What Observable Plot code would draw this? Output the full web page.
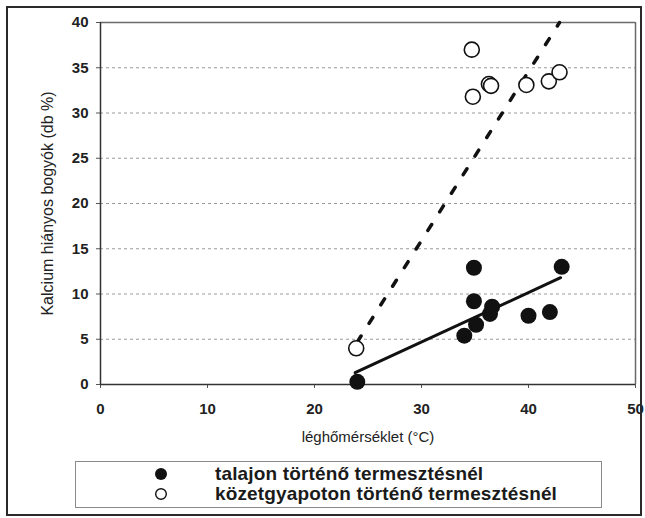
<!DOCTYPE html>
<html>
<head>
<meta charset="utf-8">
<script src="https://cdn.jsdelivr.net/npm/d3@7"></script>
<script src="https://cdn.jsdelivr.net/npm/@observablehq/plot@0.6"></script>
<style>
  html, body { margin: 0; padding: 0; background: #fff; }
  #wrap { position: relative; width: 645px; height: 518px; overflow: hidden; font-family: "Liberation Sans", Arial, sans-serif; }
  #border { position: absolute; left: 6px; top: 6px; width: 632px; height: 506px; border: 2px solid #2a2a2a; box-sizing: content-box; pointer-events: none; }
  #legend { position: absolute; left: 75px; top: 461px; width: 527px; height: 47px; border: 1px solid #8a8a8a; box-sizing: border-box; }
  .row { position: absolute; left: 0; height: 20px; }
  .row svg { position: absolute; left: 78px; top: 0; }
  .row span { position: absolute; left: 139px; top: 0; white-space: nowrap; font-weight: bold; font-size: 19px; letter-spacing: 0.15px; color: #1a1a1a; line-height: 20px; }
</style>
</head>
<body>
<div id="wrap">
  <div id="chart"></div>
  <div id="legend">
    <div class="row" style="top:2px"><svg width="14" height="20"><circle cx="7" cy="10" r="6" fill="#111"/></svg><span>talajon történő termesztésnél</span></div>
    <div class="row" style="top:22px"><svg width="14" height="20"><circle cx="7" cy="10" r="5.3" fill="none" stroke="#111" stroke-width="1.4"/></svg><span>közetgyapoton történő termesztésnél</span></div>
  </div>
  <div id="border"></div>
</div>
<script>
// Series: growing on soil (filled) and on rock wool (open)
const soilTemp = [24.0, 34.9, 34.9, 35.1, 34.0, 36.6, 36.4, 40.0, 42.0, 43.1];
const soilPct  = [0.3, 12.9, 9.2, 6.6, 5.4, 8.6, 7.8, 7.6, 8.0, 13.0];
const woolTemp = [23.9, 34.7, 34.8, 36.3, 36.5, 39.8, 41.9, 42.9];
const woolPct  = [4.0, 37.0, 31.8, 33.2, 33.0, 33.1, 33.5, 34.5];
// Trend line end points
const soilTrendTemp = [23.8, 43.0];
const soilTrendPct  = [1.3, 11.8];
const woolTrendTemp = [24.0, 42.9];
const woolTrendPct  = [4.7, 40.0];
// Ticks and labels
const xTicks = [0, 10, 20, 30, 40, 50];
const yTicks = [0, 5, 10, 15, 20, 25, 30, 35, 40];
const xLabel = "léghőmérséklet (°C)";
const yLabel = "Kalcium hiányos bogyók (db %)";

const soil = soilTemp.map((t, i) => ({t, p: soilPct[i]}));
const wool = woolTemp.map((t, i) => ({t, p: woolPct[i]}));
const soilTrend = soilTrendTemp.map((t, i) => ({t, p: soilTrendPct[i]}));
const woolTrend = woolTrendTemp.map((t, i) => ({t, p: woolTrendPct[i]}));

const chart = Plot.plot({
  width: 645,
  height: 518,
  marginLeft: 100,
  marginRight: 10,
  marginTop: 22,
  marginBottom: 134,
  style: { fontFamily: "Liberation Sans, Arial, sans-serif", background: "transparent", overflow: "visible" },
  x: { domain: [0, 50] },
  y: { domain: [0, 40] },
  marks: [
    Plot.gridY(yTicks.filter(d => d > 0 && d < 40), { stroke: "#9a9a9a", strokeOpacity: 1, strokeDasharray: "3,3", strokeWidth: 1 }),
    Plot.ruleY([40], { stroke: "#6a6a6a", strokeWidth: 1.5 }),
    Plot.ruleX([50], { stroke: "#6a6a6a", strokeWidth: 1.5 }),
    Plot.axisX(xTicks, { tickSize: 4, tickPadding: 15, fontSize: 15, fontWeight: "bold", fill: "#222", stroke: "#555", label: null }),
    Plot.axisY(yTicks, { tickSize: 4, tickPadding: 8, fontSize: 15, fontWeight: "bold", fill: "#222", stroke: "#555", label: null }),
    Plot.ruleX([0], { stroke: "#333", strokeWidth: 1.5 }),
    Plot.ruleY([0], { stroke: "#333", strokeWidth: 1.5 }),
    Plot.line(woolTrend, { x: "t", y: "p", stroke: "#111", strokeWidth: 3.5, strokeDasharray: "7,15" }),
    Plot.line(soilTrend, { x: "t", y: "p", stroke: "#111", strokeWidth: 3 }),
    Plot.dot(wool, { x: "t", y: "p", r: 7.5, fill: "white", stroke: "#111", strokeWidth: 1.6 }),
    Plot.dot(soil, { x: "t", y: "p", r: 8, fill: "#111", stroke: "none" }),
    Plot.text([xLabel], { frameAnchor: "bottom", dy: 53, text: d => d, fontSize: 15, fill: "#222", lineAnchor: "middle" }),
    Plot.text([yLabel], { frameAnchor: "left", dx: -53, rotate: -90, text: d => d, fontSize: 16, fill: "#222", lineAnchor: "middle", textAnchor: "middle" })
  ]
});
document.getElementById("chart").appendChild(chart);
</script>
</body>
</html>
